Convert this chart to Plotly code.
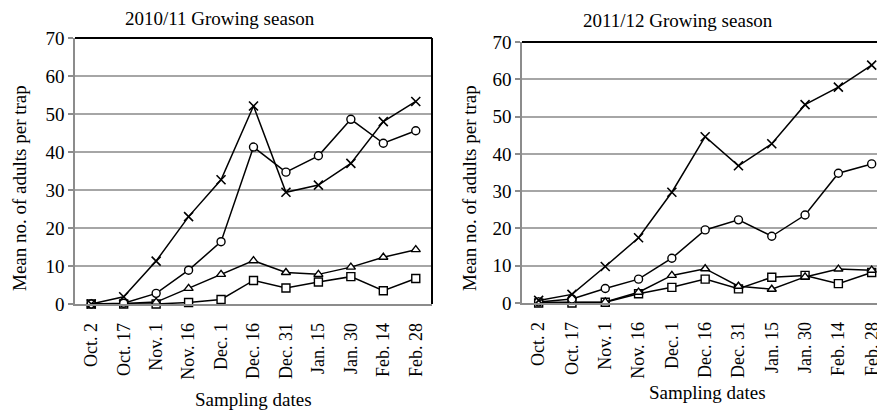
import plotly.graph_objects as go

dates = ["Oct. 2", "Oct. 17", "Nov. 1", "Nov. 16", "Dec. 1", "Dec. 16",
         "Dec. 31", "Jan. 15", "Jan. 30", "Feb. 14", "Feb. 28"]

# 2010/11 growing season
s1_cross = [0, 1.9, 11.3, 23.0, 32.7, 52.1, 29.4, 31.3, 37.0, 48.0, 53.3]
s1_circle = [0, 0.2, 2.8, 8.9, 16.4, 41.3, 34.7, 39.0, 48.6, 42.3, 45.6]
s1_triangle = [0, 0.1, 0.5, 4.1, 7.8, 11.4, 8.3, 7.8, 9.7, 12.3, 14.3]
s1_square = [0, 0, 0, 0.4, 1.2, 6.2, 4.2, 5.8, 7.2, 3.5, 6.7]

# 2011/12 growing season
s2_cross = [0.7, 2.3, 9.8, 17.5, 29.7, 44.6, 36.8, 42.7, 53.2, 57.9, 63.8]
s2_circle = [0.3, 1.1, 3.9, 6.4, 12.0, 19.6, 22.3, 17.9, 23.6, 34.8, 37.3]
s2_triangle = [0.2, 0.3, 0.3, 2.9, 7.4, 9.2, 4.5, 3.7, 7.0, 9.1, 8.8]
s2_square = [0, 0, 0.2, 2.5, 4.2, 6.4, 3.8, 6.9, 7.4, 5.2, 8.2]

titles = ["2010/11 Growing season", "2011/12 Growing season"]
y_ticks = [0, 10, 20, 30, 40, 50, 60, 70]

FONT = "Liberation Serif"
FS = 19
TFS = 18
GRID = "#a6a6a6"

fig = go.Figure()

def add_series(vals, symbol, xa, ya):
    fig.add_trace(go.Scatter(
        x=list(range(len(dates))), y=vals, mode="lines+markers",
        line=dict(color="black", width=1.5),
        marker=dict(symbol=symbol, size=8, color="white",
                    line=dict(color="black", width=1.4)),
        xaxis=xa, yaxis=ya, showlegend=False, cliponaxis=False))

def add_x(vals, xa, ya):
    fig.add_trace(go.Scatter(
        x=list(range(len(dates))), y=vals, mode="lines+markers",
        line=dict(color="black", width=1.5),
        marker=dict(symbol="x-thin-open", size=9, color="black",
                    line=dict(color="black", width=1.6)),
        xaxis=xa, yaxis=ya, showlegend=False, cliponaxis=False))

for vals, sym in [(s1_square, "square"), (s1_triangle, "triangle-up"),
                  (s1_circle, "circle")]:
    add_series(vals, sym, "x", "y")
add_x(s1_cross, "x", "y")
for vals, sym in [(s2_square, "square"), (s2_triangle, "triangle-up"),
                  (s2_circle, "circle")]:
    add_series(vals, sym, "x2", "y2")
add_x(s2_cross, "x2", "y2")

xcommon = dict(
    tickmode="array", tickvals=list(range(len(dates))), ticktext=dates,
    tickangle=-90, ticks="", showgrid=False, zeroline=False,
    showline=True, linecolor="#8c8c8c", linewidth=1.5,
    tickfont=dict(family=FONT, size=TFS, color="black"),
    ticklabelstandoff=10, ticklabeloverflow="allow", automargin=False,
)
ycommon = dict(
    range=[0, 70], tickvals=y_ticks, ticks="outside", ticklen=5,
    tickcolor="#8c8c8c", tickwidth=1.5,
    showgrid=True, gridcolor=GRID, gridwidth=1.5, zeroline=False,
    showline=True, linecolor="#8c8c8c", linewidth=1.5,
    tickfont=dict(family=FONT, size=FS, color="black"),
    automargin=False,
)

# page has an 8px body margin; figure coordinates are page coords minus 8
W, H = 877, 403
fig.update_layout(
    width=W, height=H,
    margin=dict(l=0, r=0, t=0, b=0),
    paper_bgcolor="white", plot_bgcolor="white",
    xaxis=dict(domain=[67 / W, 424 / W], range=[-0.5, 10.5], anchor="y", **xcommon),
    yaxis=dict(domain=[1 - 296 / H, 1 - 30 / H], anchor="x", **ycommon),
    xaxis2=dict(domain=[514 / W, 1.0], range=[-0.5, 10.4], anchor="y2", **xcommon),
    yaxis2=dict(domain=[1 - 295 / H, 1 - 34 / H], anchor="x2", **ycommon),
    font=dict(family=FONT, size=FS, color="black"),
)

# top / right frame lines (black)
fig.add_shape(type="line", xref="x domain", yref="y domain", x0=0, x1=1, y0=1, y1=1,
              line=dict(color="black", width=2))
fig.add_shape(type="line", xref="x domain", yref="y domain", x0=1, x1=1, y0=0, y1=1,
              line=dict(color="black", width=2))
fig.add_shape(type="line", xref="x2 domain", yref="y2 domain", x0=0, x1=1, y0=1, y1=1,
              line=dict(color="black", width=2))

ann = [
    dict(text=titles[0], x=212 / W, y=1 - 10.5 / H),
    dict(text=titles[1], x=670 / W, y=1 - 12.5 / H),
    dict(text="Sampling dates", x=245 / W, y=1 - 391 / H),
    dict(text="Sampling dates", x=699 / W, y=1 - 384 / H),
    dict(text="Mean no. of adults per trap", x=11 / W, y=1 - 180 / H, textangle=-90),
    dict(text="Mean no. of adults per trap", x=461 / W, y=1 - 180 / H, textangle=-90),
]
for a in ann:
    fig.add_annotation(xref="paper", yref="paper", showarrow=False,
                       xanchor="center", yanchor="middle",
                       font=dict(family=FONT, size=FS, color="black"), **a)

fig.write_html("out.html")
